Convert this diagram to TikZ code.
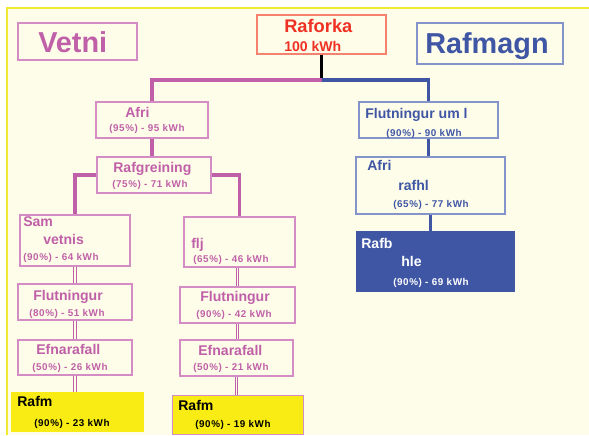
\documentclass[tikz,border=0pt]{standalone}
\usepackage{fontspec}
\setmainfont{Liberation Sans}
\newfontfamily\spacedfont[LetterSpace=6]{Liberation Sans}
\usetikzlibrary{fit}

\definecolor{cream}{HTML}{FEFDE9}
\definecolor{frame}{HTML}{F2EA30}
\definecolor{vmag}{HTML}{C060A8}
\definecolor{vline}{HTML}{D48CC4}
\definecolor{rblue}{HTML}{3F56A5}
\definecolor{rline}{HTML}{8494CA}
\definecolor{fred}{HTML}{EE3124}
\definecolor{fline}{HTML}{F4826E}
\definecolor{fyel}{HTML}{F8EC14}

\begin{document}
\begin{tikzpicture}[x=0.025cm, y=-0.025cm,
  pbox/.style={draw=vline, line width=0.8pt, inner sep=0pt},
  bbox/.style={draw=rline, line width=0.8pt, inner sep=0pt},
  ybox/.style={fill=fyel, inner sep=0pt},
  head/.style={font=\bfseries\fontsize{20.5}{24}\selectfont, inner sep=0pt, anchor=base west},
  ttl/.style={font=\bfseries\fontsize{10}{12}\selectfont, inner sep=0pt, anchor=base west},
  val/.style={font=\spacedfont\bfseries\fontsize{7}{8}\selectfont, inner sep=0pt, anchor=base west},
  mline/.style={vmag, line width=2.3pt},
  bline/.style={rblue, line width=2.3pt},
  dline/.style={vmag, line width=0.8pt, double=cream, double distance=0.9pt}]

  \useasboundingbox (0,0) rectangle (589,435);
  \fill[white] (0,0) rectangle (589,435);
  \fill[cream] (7,8) rectangle (589,435);
  \draw[frame, line width=1pt] (7,435) -- (7,8) -- (589,8);

  % headings
  \node[pbox, fit={(18,23) (137,60)}] (vetni) {};
  \node[head, text=vmag] (vetniT) at (38,52) {Vetni};
  \node[draw=fline, line width=0.8pt, inner sep=0pt, fit={(257,15) (386,54)}] (raforka) {};
  \node[ttl, text=fred, font=\bfseries\fontsize{13}{15}\selectfont] (raforkaT) at (284,32) {Raforka};
  \node[ttl, text=fred] (raforkaV) at (284,51) {100 kWh};
  \node[bbox, fit={(417,23) (563,64)}] (rafmagn) {};
  \node[head, text=rblue] (rafmagnT) at (425,53) {Rafmagn};

  % left branch
  \node[pbox, fit={(96,102) (208,138)}] (afriL) {};
  \node[ttl, text=vmag] at (125,117) (afriLT) {Afri};
  \node[val, text=vmag] at (109,131.5) (afriLV) {(95\%) - 95 kWh};
  \node[pbox, fit={(97,157) (211,193)}] (rafgr) {};
  \node[ttl, text=vmag] at (113,172) (rafgrT) {Rafgreining};
  \node[val, text=vmag] at (112,187.5) (rafgrV) {(75\%) - 71 kWh};

  \node[pbox, fit={(20,215) (130,266)}] (sam) {};
  \node[ttl, text=vmag] at (23,226.5) (samT) {Sam};
  \node[ttl, text=vmag] at (43,244) (samT2) {vetnis};
  \node[val, text=vmag] at (23,260.5) (samV) {(90\%) - 64 kWh};
  \node[pbox, fit={(18,284) (132,320)}] (flutL) {};
  \node[ttl, text=vmag] at (33,300) (flutLT) {Flutningur};
  \node[val, text=vmag] at (29,316) (flutLV) {(80\%) - 51 kWh};
  \node[pbox, fit={(18,340) (132,375)}] (efnL) {};
  \node[ttl, text=vmag] at (36,354) (efnLT) {Efnarafall};
  \node[val, text=vmag] at (32,370) (efnLV) {(50\%) - 26 kWh};
  \node[ybox, fit={(11,392) (144,432)}] (rafmL) {};
  \node[ttl] at (17,406.5) (rafmLT) {Rafm};
  \node[val] at (34,426.5) (rafmLV) {(90\%) - 23 kWh};

  \node[pbox, fit={(184,217) (295,267)}] (flj) {};
  \node[ttl, text=vmag] at (191,248) (fljT) {flj};
  \node[val, text=vmag] at (193,262) (fljV) {(65\%) - 46 kWh};
  \node[pbox, fit={(180,287) (295,323)}] (flutR) {};
  \node[ttl, text=vmag] at (200,301.5) (flutRT) {Flutningur};
  \node[val, text=vmag] at (196,317) (flutRV) {(90\%) - 42 kWh};
  \node[pbox, fit={(180,340) (293,376)}] (efnR) {};
  \node[ttl, text=vmag] at (198,355) (efnRT) {Efnarafall};
  \node[val, text=vmag] at (193,370) (efnRV) {(50\%) - 21 kWh};
  \node[ybox, draw=vline, line width=0.6pt, fit={(172,395) (303,434)}] (rafmR) {};
  \node[ttl] at (178,410) (rafmRT) {Rafm};
  \node[val] at (195,427) (rafmRV) {(90\%) - 19 kWh};

  % right branch
  \node[bbox, fit={(359,102) (498,138)}] (flutum) {};
  \node[ttl, text=rblue] at (365,118) (flutumT) {Flutningur um l};
  \node[val, text=rblue] at (386,136) (flutumV) {(90\%) - 90 kWh};
  \node[bbox, fit={(356,157) (505,214)}] (afriR) {};
  \node[ttl, text=rblue] at (367,170.5) (afriRT) {Afri};
  \node[ttl, text=rblue] at (398,190) (afriRT2) {rafhl};
  \node[val, text=rblue] at (393,207.5) (afriRV) {(65\%) - 77 kWh};
  \node[fill=rblue, inner sep=0pt, fit={(356,231) (515,292)}] (rafb) {};
  \node[ttl, text=white] at (361,248) (rafbT) {Rafb};
  \node[ttl, text=white] at (401,266) (rafbT2) {hle};
  \node[val, text=white] at (393,285) (rafbV) {(90\%) - 69 kWh};

  % connectors
  \coordinate (split) at (raforka.south |- 0,80);
  \draw[black, line width=2.3pt] (raforka.south) -- (split);
  \draw[mline] (split) -| (afriL.north);
  \draw[bline] (split) -| (flutum.north);
  \draw[mline] (afriL.south) -- (afriL.south |- rafgr.north);
  \draw[mline] (rafgr.west) -| (sam.north);
  \draw[mline] (rafgr.east) -| (flj.north);
  \draw[dline] (sam.south) -- (sam.south |- flutL.north);
  \draw[dline] (flutL.south) -- (flutL.south |- efnL.north);
  \draw[dline] (efnL.south) -- (efnL.south |- rafmL.north);
  \draw[dline] (flutR.north |- flj.south) -- (flutR.north);
  \draw[dline] (flutR.south) -- (flutR.south |- efnR.north);
  \draw[dline] (efnR.south) -- (efnR.south |- rafmR.north);
  \draw[bline] (flutum.south) -- (flutum.south |- afriR.north);
  \draw[bline] (afriR.south) -- (afriR.south |- rafb.north);
\end{tikzpicture}
\end{document}
